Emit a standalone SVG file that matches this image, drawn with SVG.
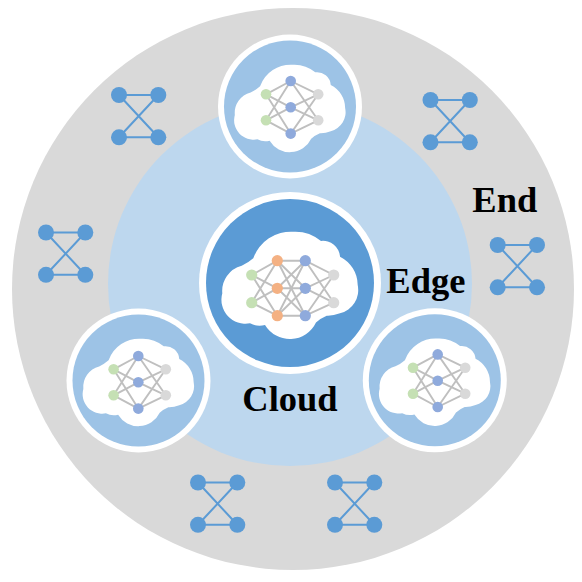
<svg xmlns="http://www.w3.org/2000/svg" width="582" height="582" viewBox="0 0 582 582">
<style>
.lbl{font-family:"Liberation Serif","Times New Roman",serif;font-weight:bold;font-size:36.5px;fill:#000}
.w{fill:#fff}
.e{stroke:#bfbfbf;stroke-width:1.9;fill:none}
.ee{stroke:#5b9bd5;stroke-width:2;fill:none}
.g{fill:#c5e0b4}.o{fill:#f4b183}.b{fill:#8faadc}.y{fill:#d9d9d9}
.n{fill:#5b9bd5}
</style>
<defs>
<path id="cloud" class="w" d="M-40 40.300A24 24 0 0 1-67.700 10.300A26 26 0 0 1-48.300-17.300Q-42-20-36.700-24.700A40 40 0 0 1 3.300-51.300A40 40 0 0 1 31-42A17 17 0 0 1 50-26.300A32 32 0 0 1 67.700 2A24 24 0 0 1 50 30.300Q43 33 36.700 32.700Q31 35 26 39.500A29 29 0 0 1-25 42Q-33 44-40 40.300Z"/>
<g id="disc">
<circle class="w" r="72"/>
<circle r="66" fill="#9dc3e6"/>
<use href="#cloud" transform="scale(.815)"/>
</g>
<g id="net">
<path class="e" d="M-24.700-13L0-26.300M-24.700-13L0 0M-24.700-13L0 26.300M-24.700 13L0-26.300M-24.700 13L0 0M-24.700 13L0 26.300M0-26.300L27.500-13M0-26.300L27.500 13M0 0L27.500-13M0 0L27.500 13M0 26.300L27.500-13M0 26.300L27.500 13"/>
<circle class="g" cx="-24.700" cy="-13" r="5.300"/><circle class="g" cx="-24.700" cy="13" r="5.300"/>
<circle class="b" cy="-26.300" r="5.300"/><circle class="b" r="5.300"/><circle class="b" cy="26.300" r="5.300"/>
<circle class="y" cx="27.500" cy="-13" r="5.300"/><circle class="y" cx="27.500" cy="13" r="5.300"/>
</g>
<g id="x">
<path class="ee" d="M0 0H39.300M0 42.300H39.300M0 0L39.300 42.300M39.300 0L0 42.300"/>
<circle class="n" r="8"/><circle class="n" cx="39.300" r="8"/><circle class="n" cy="42.300" r="8"/><circle class="n" cx="39.300" cy="42.300" r="8"/>
</g>
</defs>
<circle id="end-zone" cx="293" cy="289" r="281" fill="#d9d9d9"/>
<circle id="edge-zone" cx="290" cy="284" r="182" fill="#bdd7ee"/>
<g id="end-1"><use href="#x" x="119" y="95"/></g>
<g id="end-2"><use href="#x" x="430.500" y="100"/></g>
<g id="end-3"><use href="#x" x="46" y="232.500"/></g>
<g id="end-4"><use href="#x" x="497.700" y="245"/></g>
<g id="end-5"><use href="#x" x="198" y="482.500"/></g>
<g id="end-6"><use href="#x" x="335" y="482.500"/></g>
<g id="edge-top"><use href="#disc" x="290" y="106.500"/><use href="#net" x="290.700" y="107.300"/></g>
<g id="edge-left"><use href="#disc" x="138.500" y="380.500"/><use href="#net" x="138.300" y="382.300"/></g>
<g id="edge-right"><use href="#disc" x="434.800" y="380.300"/><use href="#net" x="437.700" y="380.700"/></g>
<g id="cloud-center" transform="translate(290 283)">
<circle class="w" r="91"/>
<circle r="84" fill="#5b9bd5"/>
<use href="#cloud"/>
<path class="e" d="M-38.300-8L-12.700-22.300M-38.300-8L-12.700 5.300M-38.300-8L-12.700 32.700M-38.300 19.700L-12.700-22.300M-38.300 19.700L-12.700 5.300M-38.300 19.700L-12.700 32.700M-12.700-22.300H15.300M-12.700-22.300L15.300 5.300M-12.700-22.300L15.300 32.700M-12.700 5.300L15.300-22.300M-12.700 5.300H15.300M-12.700 5.300L15.300 32.700M-12.700 32.700L15.300-22.300M-12.700 32.700L15.300 5.300M-12.700 32.700H15.300M15.300-22.300L43.700-8M15.300-22.300L43.700 19.700M15.300 5.300L43.700-8M15.300 5.300L43.700 19.700M15.300 32.700L43.700-8M15.300 32.700L43.700 19.700"/>
<circle class="g" cx="-38.300" cy="-8" r="5.600"/><circle class="g" cx="-38.300" cy="19.700" r="5.600"/>
<circle class="o" cx="-12.700" cy="-22.300" r="5.600"/><circle class="o" cx="-12.700" cy="5.300" r="5.600"/><circle class="o" cx="-12.700" cy="32.700" r="5.600"/>
<circle class="b" cx="15.300" cy="-22.300" r="5.600"/><circle class="b" cx="15.300" cy="5.300" r="5.600"/><circle class="b" cx="15.300" cy="32.700" r="5.600"/>
<circle class="y" cx="43.700" cy="-8" r="5.600"/><circle class="y" cx="43.700" cy="19.700" r="5.600"/>
</g>
<text class="lbl" x="472.300" y="212.300">End</text>
<text class="lbl" x="386.300" y="292.700">Edge</text>
<text class="lbl" x="242.300" y="411">Cloud</text>
</svg>
